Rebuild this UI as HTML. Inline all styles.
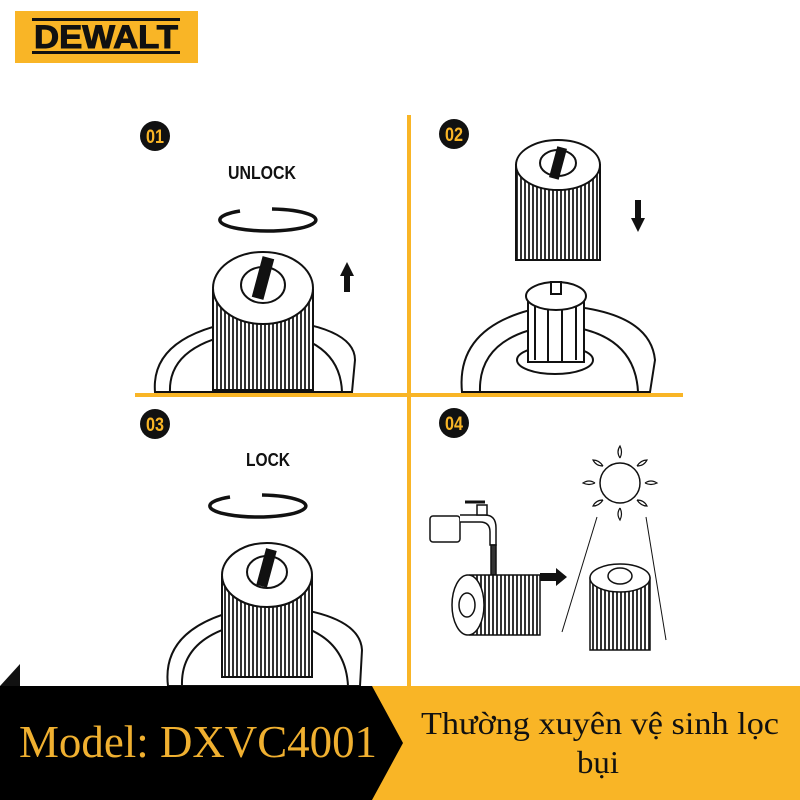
<!DOCTYPE html>
<html><head><meta charset="utf-8"><style>
html,body{margin:0;padding:0;background:#fff;}
body{width:800px;height:800px;position:relative;overflow:hidden;font-family:"Liberation Sans",sans-serif;}
</style></head><body>
<svg width="800" height="800" viewBox="0 0 800 800" style="position:absolute;left:0;top:0">
<defs>
<pattern id="st" width="4" height="10" patternUnits="userSpaceOnUse">
<rect width="4" height="10" fill="#fff"/><rect width="2" height="10" fill="#333"/>
</pattern>
</defs>
<!-- logo -->
<rect x="15" y="11" width="183" height="52" fill="#f9b526"/>
<rect x="32" y="18" width="148" height="3" fill="#111"/>
<rect x="32" y="51" width="148" height="3" fill="#111"/>
<text x="106" y="48" text-anchor="middle" font-family="Liberation Sans" font-weight="bold" font-size="32" fill="#111" stroke="#111" stroke-width="1" textLength="144" lengthAdjust="spacingAndGlyphs">DEWALT</text>

<!-- grid lines -->
<rect x="407" y="115" width="4" height="571" fill="#f9b526"/>
<rect x="135" y="393" width="548" height="4" fill="#f9b526"/>

<!-- badges -->
<g font-family="Liberation Sans" font-weight="bold" font-size="19" fill="#f9b526" text-anchor="middle">
<circle cx="155" cy="136" r="15" fill="#111"/><text x="155" y="143" textLength="18" lengthAdjust="spacingAndGlyphs">01</text>
<circle cx="454" cy="134" r="15" fill="#111"/><text x="454" y="141" textLength="18" lengthAdjust="spacingAndGlyphs">02</text>
<circle cx="155" cy="424" r="15" fill="#111"/><text x="155" y="431" textLength="18" lengthAdjust="spacingAndGlyphs">03</text>
<circle cx="454" cy="423" r="15" fill="#111"/><text x="454" y="430" textLength="18" lengthAdjust="spacingAndGlyphs">04</text>
</g>
<g font-family="Liberation Sans" font-weight="bold" font-size="18" fill="#111" text-anchor="middle">
<text x="262" y="179" textLength="68" lengthAdjust="spacingAndGlyphs">UNLOCK</text>
<text x="268" y="466" textLength="44" lengthAdjust="spacingAndGlyphs">LOCK</text>
</g>

<!-- rotation arrows -->
<g fill="none" stroke="#111" stroke-width="3.5">
<path d="M240 211 A48 11 0 1 0 272 209"/>
<path d="M230 497 A48 11 0 1 0 262 495"/>
</g>

<!-- panel 1 -->
<g stroke="#111" stroke-width="2" fill="#fff">
<path d="M155 392 Q150 330 260 318 Q355 325 355 360 L352 392 Z"/>
<path d="M170 392 Q168 340 258 330 Q340 335 342 392" fill="none"/>
<rect x="213" y="290" width="100" height="100" fill="url(#st)"/>
<ellipse cx="263" cy="288" rx="50" ry="36"/>
<ellipse cx="263" cy="285" rx="22" ry="18"/>
<rect x="258" y="258" width="10" height="40" fill="#111" transform="rotate(15 263 278)"/>
</g>
<polygon points="347,262 340,276 344,276 344,292 350,292 350,276 354,276" fill="#111"/>

<!-- panel 2 -->
<g stroke="#111" stroke-width="2" fill="#fff">
<path d="M462 392 Q455 320 555 305 Q650 310 655 360 L650 392 Z"/>
<path d="M480 392 Q478 335 555 325 Q635 330 638 392" fill="none"/>
<ellipse cx="555" cy="360" rx="38" ry="14"/>
<rect x="528" y="300" width="56" height="62" fill="#fff"/>
<line x1="535" y1="305" x2="535" y2="360"/><line x1="548" y1="305" x2="548" y2="362"/><line x1="562" y1="305" x2="562" y2="362"/><line x1="576" y1="305" x2="576" y2="360"/>
<ellipse cx="556" cy="296" rx="30" ry="14"/>
<rect x="551" y="282" width="10" height="12"/>
<rect x="516" y="165" width="84" height="95" fill="url(#st)"/>
<ellipse cx="558" cy="165" rx="42" ry="25"/>
<ellipse cx="558" cy="163" rx="18" ry="13"/>
<rect x="554" y="148" width="8" height="30" fill="#111" transform="rotate(15 558 163)"/>
</g>
<polygon points="638,232 631,218 635,218 635,200 641,200 641,218 645,218" fill="#111"/>

<!-- panel 3 -->
<g stroke="#111" stroke-width="2" fill="#fff">
<path d="M168 686 Q160 620 265 605 Q360 612 362 650 L360 686 Z"/>
<path d="M182 686 Q180 630 265 620 Q345 625 348 686" fill="none"/>
<rect x="222" y="577" width="90" height="100" fill="url(#st)"/>
<ellipse cx="267" cy="575" rx="45" ry="32"/>
<ellipse cx="267" cy="572" rx="20" ry="16"/>
<rect x="262" y="550" width="9" height="36" fill="#111" transform="rotate(15 267 568)"/>
</g>

<!-- panel 4 -->
<g stroke="#111" stroke-width="1.5" fill="#fff">
<rect x="430" y="516" width="30" height="26" rx="3"/>
<path d="M460 522 L480 522 Q490 522 490 532 L490 545 L496 545 L496 528 Q496 515 485 515 L460 515"/>
<rect x="477" y="505" width="10" height="10"/>
<line x1="465" y1="502" x2="485" y2="502" stroke-width="3"/>
<rect x="491" y="545" width="5" height="30" fill="#333"/>
<rect x="470" y="575" width="70" height="60" fill="url(#st)"/>
<ellipse cx="468" cy="605" rx="16" ry="30"/>
<ellipse cx="467" cy="605" rx="8" ry="12"/>
<circle cx="620" cy="483" r="20"/>
<rect x="590" y="578" width="60" height="72" fill="url(#st)"/>
<ellipse cx="620" cy="578" rx="30" ry="14"/>
<ellipse cx="620" cy="576" rx="12" ry="8"/>
<line x1="597" y1="517" x2="562" y2="632" fill="none" stroke-width="1"/>
<line x1="646" y1="517" x2="666" y2="640" fill="none" stroke-width="1"/>
</g>
<g fill="none" stroke="#111" stroke-width="1.2">
<path d="M620 458 q-4 -6 0 -12 q3 6 0 12"/>
<path d="M620 508 q-4 6 0 12 q3 -6 0 -12"/>
<path d="M595 483 q-6 -4 -12 0 q6 3 12 0"/>
<path d="M645 483 q6 -4 12 0 q-6 3 -12 0"/>
<path d="M603 466 q-4 -6 -10 -6 q3 6 10 6"/>
<path d="M637 466 q4 -6 10 -6 q-3 6 -10 6"/>
<path d="M603 500 q-4 6 -10 6 q3 -6 10 -6"/>
<path d="M637 500 q4 6 10 6 q-3 -6 -10 -6"/>
</g>
<polygon points="540,573 556,573 556,568 567,577 556,586 556,581 540,581" fill="#111"/>

<!-- small black triangle -->
<polygon points="0,686 20,686 20,664" fill="#111"/>

<!-- banner -->
<rect x="0" y="686" width="800" height="114" fill="#f9b526"/>
<polygon points="0,686 372,686 403,743 372,800 0,800" fill="#000"/>
<text x="198" y="757" text-anchor="middle" font-family="Liberation Serif" font-size="46" fill="#f0b030" textLength="358" lengthAdjust="spacingAndGlyphs">Model: DXVC4001</text>
<g font-family="Liberation Serif, 'DejaVu Serif', serif" font-size="32" fill="#111" text-anchor="middle">
<text x="600" y="734" textLength="358" lengthAdjust="spacingAndGlyphs">Thường xuyên vệ sinh lọc</text>
<text x="598" y="773" textLength="42" lengthAdjust="spacingAndGlyphs">bụi</text>
</g>
</svg>
</body></html>
